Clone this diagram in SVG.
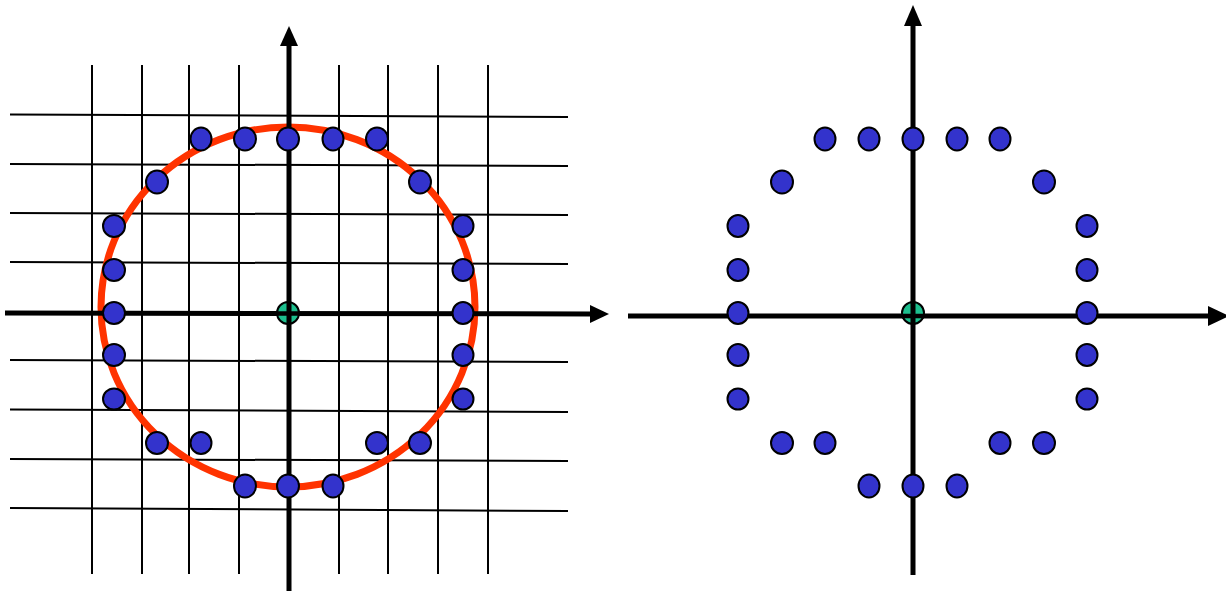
<svg xmlns="http://www.w3.org/2000/svg" width="1226" height="592" viewBox="0 0 1226 592">
<style>
.g{stroke:#000;stroke-width:2;fill:none}
.ax{stroke:#000;stroke-width:5;fill:none}
.d{fill:#3333cc;stroke:#000;stroke-width:2}
.o{fill:#1dbf8e;stroke:#000;stroke-width:2}
.ah{fill:#000}
</style>
<rect width="1226" height="592" fill="#fff"/>
<g id="grid">
<line class="g" x1="92" y1="65" x2="92" y2="574"/>
<line class="g" x1="142" y1="65" x2="142" y2="574"/>
<line class="g" x1="189" y1="65" x2="189" y2="574"/>
<line class="g" x1="239" y1="65" x2="239" y2="574"/>
<line class="g" x1="339" y1="65" x2="339" y2="574"/>
<line class="g" x1="388" y1="65" x2="388" y2="574"/>
<line class="g" x1="438" y1="65" x2="438" y2="574"/>
<line class="g" x1="488" y1="65" x2="488" y2="574"/>
<line class="g" x1="10" y1="114.5" x2="568" y2="117"/>
<line class="g" x1="10" y1="164" x2="568" y2="166"/>
<line class="g" x1="10" y1="213" x2="568" y2="215"/>
<line class="g" x1="10" y1="262" x2="568" y2="264"/>
<line class="g" x1="10" y1="360" x2="568" y2="362"/>
<line class="g" x1="10" y1="409.5" x2="568" y2="412"/>
<line class="g" x1="10" y1="459" x2="568" y2="461"/>
<line class="g" x1="10" y1="508" x2="568" y2="511"/>
</g>
<ellipse id="circle" cx="288" cy="307" rx="187" ry="180" fill="none" stroke="#ff3300" stroke-width="7"/>
<g id="axes">
<line class="ax" x1="5" y1="313" x2="592" y2="314"/>
<polygon class="ah" points="609,314 590,305 590,323"/>
<line class="ax" x1="289" y1="591" x2="289" y2="44"/>
<polygon class="ah" points="289,26 280,46 298,46"/>
<line class="ax" x1="628" y1="316" x2="1210" y2="316"/>
<polygon class="ah" points="1229,316 1208,306 1208,326"/>
<line class="ax" x1="913" y1="575" x2="913" y2="24"/>
<polygon class="ah" points="913,5 904,26 922,26"/>
</g>
<g id="left-points">
<ellipse class="d" cx="201" cy="139" rx="10.5" ry="11.5"/>
<ellipse class="d" cx="245" cy="139" rx="11" ry="11.5"/>
<ellipse class="d" cx="288" cy="139" rx="11" ry="11.5"/>
<ellipse class="d" cx="333" cy="139" rx="10.5" ry="11.5"/>
<ellipse class="d" cx="377" cy="139" rx="11" ry="11.5"/>
<ellipse class="d" cx="157" cy="182" rx="11" ry="11.5"/>
<ellipse class="d" cx="420" cy="182" rx="11" ry="11.5"/>
<ellipse class="d" cx="114" cy="226" rx="11" ry="11"/>
<ellipse class="d" cx="463" cy="226" rx="10.5" ry="11"/>
<ellipse class="d" cx="114" cy="270" rx="11" ry="11"/>
<ellipse class="d" cx="463" cy="270" rx="10.5" ry="11"/>
<ellipse class="d" cx="114" cy="313" rx="11" ry="11"/>
<ellipse class="d" cx="463" cy="313" rx="10.5" ry="11"/>
<ellipse class="d" cx="114" cy="355" rx="11" ry="11"/>
<ellipse class="d" cx="463" cy="355" rx="10.5" ry="11"/>
<ellipse class="d" cx="114" cy="399" rx="11" ry="10.5"/>
<ellipse class="d" cx="463" cy="399" rx="10.5" ry="10.5"/>
<ellipse class="d" cx="157" cy="443" rx="11" ry="11"/>
<ellipse class="d" cx="201" cy="443" rx="10.5" ry="11"/>
<ellipse class="d" cx="377" cy="443" rx="11" ry="11"/>
<ellipse class="d" cx="420" cy="443" rx="11" ry="11"/>
<ellipse class="d" cx="245" cy="486" rx="11" ry="11.5"/>
<ellipse class="d" cx="288" cy="486" rx="11" ry="11.5"/>
<ellipse class="d" cx="333" cy="486" rx="10.5" ry="11.5"/>
</g>
<g id="left-origin">
<ellipse class="o" cx="288" cy="313" rx="11" ry="11"/>
<line x1="277" y1="313.5" x2="299" y2="313.5" stroke="#000" stroke-width="4.5"/>
<line x1="289" y1="302" x2="289" y2="324" stroke="#000" stroke-width="5"/>
</g>
<g id="right-points">
<ellipse class="d" cx="825" cy="139" rx="10.5" ry="11.5"/>
<ellipse class="d" cx="869" cy="139" rx="10.5" ry="11.5"/>
<ellipse class="d" cx="913" cy="139" rx="10.5" ry="11.5"/>
<ellipse class="d" cx="957" cy="139" rx="10.5" ry="11.5"/>
<ellipse class="d" cx="1000" cy="139" rx="10.5" ry="11.5"/>
<ellipse class="d" cx="782" cy="182" rx="11" ry="11.5"/>
<ellipse class="d" cx="1044" cy="182" rx="11" ry="11.5"/>
<ellipse class="d" cx="738" cy="226" rx="10.5" ry="11"/>
<ellipse class="d" cx="1087" cy="226" rx="10.5" ry="11"/>
<ellipse class="d" cx="738" cy="270" rx="10.5" ry="11"/>
<ellipse class="d" cx="1087" cy="270" rx="10.5" ry="11"/>
<ellipse class="d" cx="738" cy="313" rx="10.5" ry="11"/>
<ellipse class="d" cx="1087" cy="313" rx="10.5" ry="11"/>
<ellipse class="d" cx="738" cy="355" rx="10.5" ry="11"/>
<ellipse class="d" cx="1087" cy="355" rx="10.5" ry="11"/>
<ellipse class="d" cx="738" cy="399" rx="10.5" ry="10.5"/>
<ellipse class="d" cx="1087" cy="399" rx="10.5" ry="10.5"/>
<ellipse class="d" cx="782" cy="443" rx="11" ry="11"/>
<ellipse class="d" cx="825" cy="443" rx="10.5" ry="11"/>
<ellipse class="d" cx="1000" cy="443" rx="10.5" ry="11"/>
<ellipse class="d" cx="1044" cy="443" rx="11" ry="11"/>
<ellipse class="d" cx="869" cy="486" rx="10.5" ry="11.5"/>
<ellipse class="d" cx="913" cy="486" rx="10.5" ry="11.5"/>
<ellipse class="d" cx="957" cy="486" rx="10.5" ry="11.5"/>
</g>
<g id="right-origin">
<ellipse class="o" cx="913" cy="313" rx="11" ry="11"/>
<line x1="902" y1="316" x2="924" y2="316" stroke="#000" stroke-width="4.5"/>
<line x1="913" y1="302" x2="913" y2="324" stroke="#000" stroke-width="5"/>
</g>
</svg>
